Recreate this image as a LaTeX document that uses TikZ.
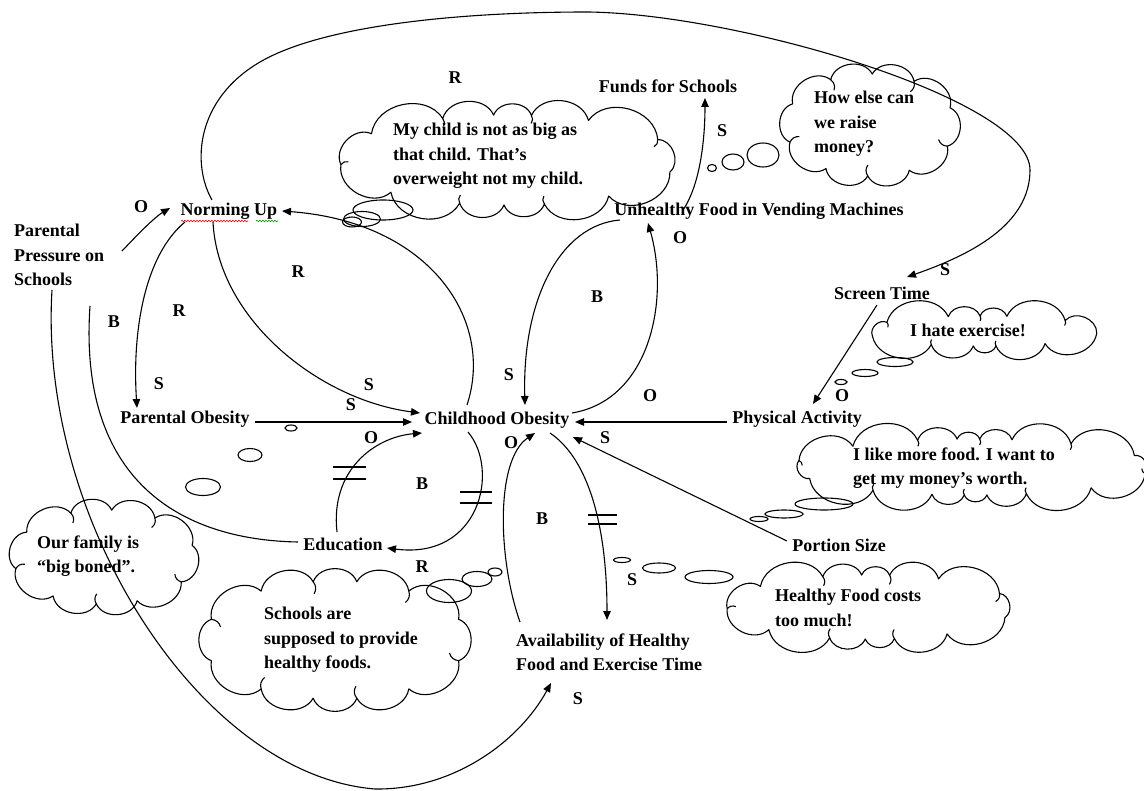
\documentclass[tikz,border=0pt]{standalone}
\usepackage{fontspec}
\setmainfont{Liberation Serif}
\usetikzlibrary{arrows.meta,decorations.pathmorphing}
% #1 cx, #2 cy, #3 valley rx, #4 valley ry, #5 puffs, #6 spread (deg), #7 phase (deg), #8 curl length
\newcommand\puffcloud[8]{%
  \draw[cloudline] ({#1+#3*cos(#7+#6*sin(2*#7))},{#2+#4*sin(#7+#6*sin(2*#7))})
    \foreach \k [evaluate=\k as \cang using {#7+360*\k/#5+#6*sin(2*(#7+360*\k/#5))}] in {1,...,#5}
      { to[bend left=70, looseness=1.1] ({#1+#3*cos(\cang)},{#2+#4*sin(\cang)}) };%
  \foreach \k [evaluate=\k as \cang using {#7+360*\k/#5+#6*sin(2*(#7+360*\k/#5))}] in {2,4,...,#5}{%
    \pgfmathsetmacro\cvx{#1+#3*cos(\cang)}%
    \pgfmathsetmacro\cvy{#2+#4*sin(\cang)}%
    \pgfmathsetmacro\cnx{100*cos(\cang)/#3}%
    \pgfmathsetmacro\cny{100*sin(\cang)/#4}%
    \pgfmathsetmacro\cnl{sqrt(\cnx*\cnx+\cny*\cny)}%
    \draw[cloudline] (\cvx,\cvy) to[bend left=35] ({\cvx-#8*\cnx/\cnl},{\cvy-#8*\cny/\cnl});%
  }%
}
\begin{document}
\begin{tikzpicture}[x=1pt,y=-1pt,
  txt/.style={font=\bfseries\fontsize{18}{24.5}\selectfont, inner sep=0pt, text=black},
  lbl/.style={txt},
  arr/.style={line width=1.1pt, -{Triangle[length=9pt,width=7.5pt]}},
  plainline/.style={line width=1.1pt},
  cloudline/.style={line width=1.1pt, line join=round},
  bubble/.style={line width=1.1pt},
  delay/.style={line width=1.1pt},
  squig/.style={line width=0.6pt, decorate, decoration={snake, amplitude=0.8pt, segment length=3pt}},
]
\useasboundingbox (0,0) rectangle (1144,791);

% ---------- clouds ----------
\puffcloud{508}{160}{168}{45}{13}{16}{10}{8}
\puffcloud{870}{125}{85}{51}{10}{7}{20}{11}
\puffcloud{982}{331}{116}{15}{11}{20}{5}{5}
\puffcloud{972}{467}{178}{28}{16}{20}{8}{6}
\puffcloud{870}{607}{143}{32}{13}{18}{12}{9}
\puffcloud{335}{640}{132}{59}{12}{11}{15}{12}
\puffcloud{104}{557}{91}{47}{10}{9}{25}{10}

% thought bubbles
\draw[bubble] (383,210) ellipse (30 and 10);
\draw[bubble] (362,219) ellipse (18.5 and 7.5);
\draw[bubble] (352,222) ellipse (9.5 and 5);
\draw[bubble] (763,155) ellipse (16 and 12);
\draw[bubble] (733,162) ellipse (11 and 8);
\draw[bubble] (712,168) ellipse (4.5 and 3.5);
\draw[bubble] (895,362) ellipse (18 and 4.5);
\draw[bubble] (865,373) ellipse (13 and 3.5);
\draw[bubble] (841,382) ellipse (6 and 2.5);
\draw[bubble] (824,504) ellipse (29 and 6);
\draw[bubble] (784,514) ellipse (19 and 4);
\draw[bubble] (759,519) ellipse (9 and 2.5);
\draw[bubble] (709,577) ellipse (24 and 6.5);
\draw[bubble] (659,568) ellipse (16.5 and 5);
\draw[bubble] (622,560) ellipse (8.5 and 2.5);
\draw[bubble] (449,591) ellipse (22.5 and 11.5);
\draw[bubble] (477,579) ellipse (15 and 7.5);
\draw[bubble] (495,572) ellipse (7 and 4);
\draw[bubble] (291,428) ellipse (6 and 3);
\draw[bubble] (250,455) ellipse (12 and 6.5);
\draw[bubble] (203,487) ellipse (17.5 and 8.5);

% cloud texts
\node[txt, align=left, anchor=west] (t1) at (393,156) {My child is not as big as\\that child. That’s\\overweight not my child.};
\node[txt, align=left, anchor=west] (t2) at (814,124) {How else can\\we raise\\money?};
\node[txt] (t3) at (968,330) {I hate exercise!};
\node[txt, align=left, anchor=west] (t4) at (853,468) {I like more food. I want to\\get my money’s worth.};
\node[txt, align=left, anchor=west] (t5) at (775,608) {Healthy Food costs\\too much!};
\node[txt, align=left, anchor=west] (t6) at (264,640) {Schools are\\supposed to provide\\healthy foods.};
\node[txt, align=left, anchor=west] (t7) at (37,556) {Our family is\\“big boned”.};

% ---------- variables ----------
\node[txt] (norm) at (229,211) {Norming Up};
\node[txt, align=left, anchor=west] (ppres) at (14,255) {Parental\\Pressure on\\Schools};
\node[txt] (pob) at (185,419) {Parental Obesity};
\node[txt] (cob) at (497,420) {Childhood Obesity};
\node[txt] (phys) at (797,419) {Physical Activity};
\node[txt] (screen) at (882,293) {Screen Time};
\node[txt] (unh) at (759,211) {Unhealthy Food in Vending Machines};
\node[txt] (funds) at (668,86) {Funds for Schools};
\node[txt] (edu) at (343,544) {Education};
\node[txt] (portion) at (839,545) {Portion Size};
\node[txt, align=left, anchor=west] (avail) at (516,652) {Availability of Healthy\\Food and Exercise Time};

% spell-check underlines
\draw[squig, red] (181,221) -- (248,221);
\draw[squig, green!60!black] (256,221) -- (278,221);

% ---------- connectors ----------
% big loop: Norming Up -> Screen Time
\draw[arr] ([shift={(-17,-11)}]norm.center) .. controls (192,165) and (195,100) .. (260,62)
  .. controls (320,27) and (450,12) .. (588,12)
  .. controls (740,14) and (1030,100) .. (1030,170)
  .. controls (1030,225) and (970,255) .. ([shift={(25,-16)}]screen.center);
% Parental Pressure -> Norming Up
\draw[arr] ([shift={(108,-4)}]ppres.west) .. controls (140,232) and (155,217) .. ([shift={(-59,-3)}]norm.center);
% Norming Up -> Parental Obesity
\draw[arr] ([shift={(-44,11)}]norm.center) .. controls (145,255) and (132,330) .. ([shift={(-48,-11)}]pob.center);
% Norming Up -> Childhood Obesity
\draw[arr] ([shift={(-16,11)}]norm.center) .. controls (218,320) and (320,400) .. ([shift={(-77,-7)}]cob.center);
% Childhood Obesity -> Norming Up
\draw[arr] ([shift={(-30,-15)}]cob.center) .. controls (495,320) and (430,222) .. ([shift={(53,0)}]norm.center);
% Parental Obesity -> Childhood Obesity
\draw[arr] ([shift={(70,3)}]pob.center) -- ([shift={(-85,2)}]cob.center);
% Education -> Childhood Obesity
\draw[arr] ([shift={(-6,-12)}]edu.center) .. controls (330,470) and (375,437) .. ([shift={(-75,13)}]cob.center);
% Childhood Obesity -> Education
\draw[arr] ([shift={(-29,12)}]cob.center) .. controls (500,470) and (480,560) .. ([shift={(44,4)}]edu.center);
% free curve into Education
\coordinate (iStart) at (90,306);
\draw[plainline] (iStart) .. controls (78,480) and (180,540) .. ([shift={(-45,-2)}]edu.center);
% Parental Pressure -> Availability
\draw[arr] ([shift={(38,35)}]ppres.west) .. controls (38,520) and (200,775) .. (375,789)
  .. controls (455,790) and (520,740) .. ([shift={(35,31)}]avail.west);
% Childhood Obesity -> Unhealthy Food
\draw[arr] ([shift={(75,-7)}]cob.center) .. controls (650,400) and (670,300) .. ([shift={(-111,12)}]unh.center);
% Unhealthy Food -> Childhood Obesity
\draw[arr] ([shift={(-139,9)}]unh.center) .. controls (560,225) and (522,300) .. ([shift={(28,-15)}]cob.center);
% Unhealthy Food -> Funds for Schools
\draw[arr] ([shift={(-76,-1)}]unh.center) .. controls (700,185) and (705,140) .. ([shift={(37,12)}]funds.center);
% Screen Time -> Physical Activity
\draw[arr] ([shift={(-5,12)}]screen.center) -- ([shift={(16,-15)}]phys.center);
% Physical Activity -> Childhood Obesity
\draw[arr] ([shift={(-70,3)}]phys.center) -- ([shift={(78,2)}]cob.center);
% Portion Size -> Childhood Obesity
\draw[arr] ([shift={(-52,-4)}]portion.center) -- ([shift={(76,17)}]cob.center);
% Childhood Obesity -> Availability
\draw[arr] ([shift={(53,13)}]cob.center) .. controls (590,460) and (607,530) .. ([shift={(91,-32)}]avail.west);
% Availability -> Childhood Obesity
\draw[arr] ([shift={(4,-30)}]avail.west) .. controls (498,560) and (495,460) .. ([shift={(38,13)}]cob.center);

% delay marks
\draw[delay] (333,467) -- (366,467);
\draw[delay] (333,479) -- (366,479);
\draw[delay] (460,492) -- (492,492);
\draw[delay] (460,503) -- (492,503);
\draw[delay] (588,515) -- (617,515);
\draw[delay] (588,524) -- (617,524);

% ---------- polarity / loop labels ----------
\node[lbl] (l1) at (455,78) {R};
\node[lbl] (l2) at (722,131) {S};
\node[lbl] (l3) at (141,207) {O};
\node[lbl] (l4) at (298,272) {R};
\node[lbl] (l5) at (114,322) {B};
\node[lbl] (l6) at (179,311) {R};
\node[lbl] (l7) at (159,384) {S};
\node[lbl] (l8) at (369,385) {S};
\node[lbl] (l9) at (351,405) {S};
\node[lbl] (l10) at (509,375) {S};
\node[lbl] (l11) at (597,297) {B};
\node[lbl] (l12) at (680,238) {O};
\node[lbl] (l13) at (945,270) {S};
\node[lbl] (l14) at (842,396) {O};
\node[lbl] (l15) at (650,396) {O};
\node[lbl] (l16) at (371,438) {O};
\node[lbl] (l17) at (511,443) {O};
\node[lbl] (l18) at (605,438) {S};
\node[lbl] (l19) at (422,484) {B};
\node[lbl] (l20) at (542,519) {B};
\node[lbl] (l21) at (422,567) {R};
\node[lbl] (l22) at (632,580) {S};
\node[lbl] (l23) at (578,699) {S};
\end{tikzpicture}
\end{document}
